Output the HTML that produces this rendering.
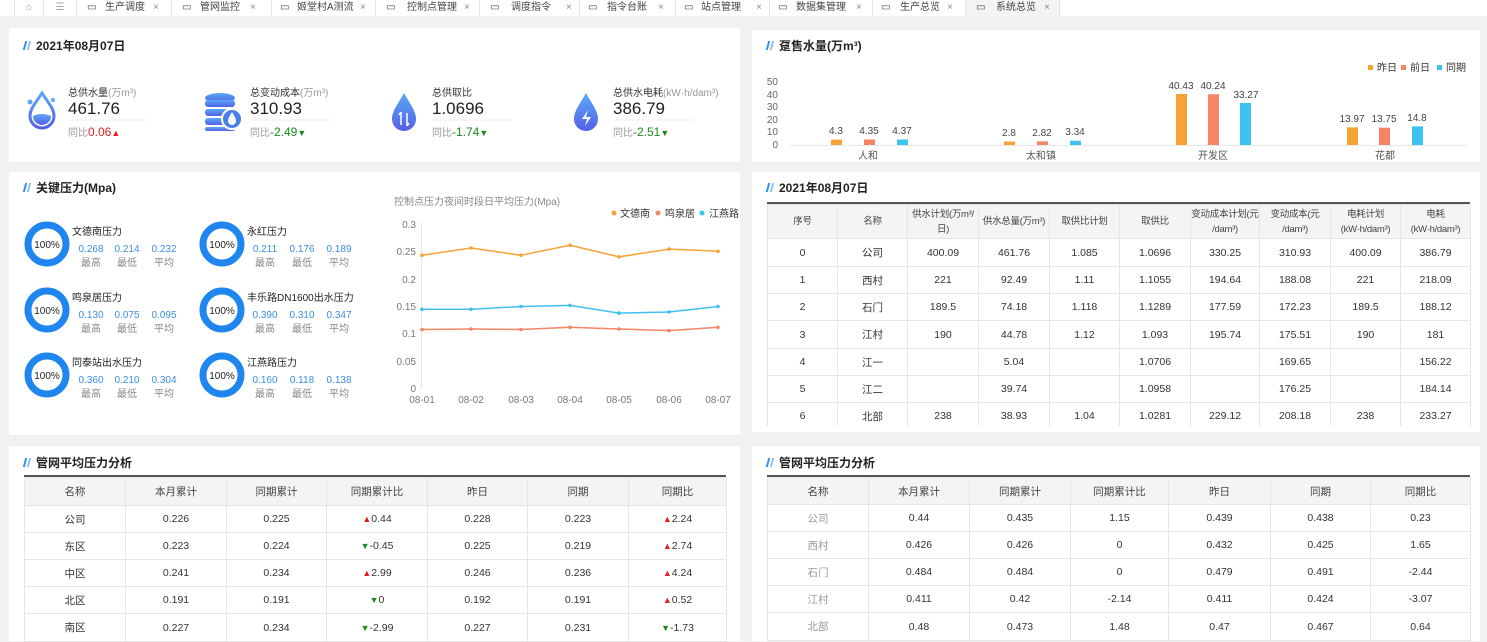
<!DOCTYPE html>
<html><head><meta charset="utf-8">
<style>
*{margin:0;padding:0;box-sizing:border-box}
body{width:1487px;height:641px;overflow:hidden;background:#f0f1f3;font-family:"Liberation Sans","Noto Sans CJK SC",sans-serif;color:#333;position:relative}
.a{position:absolute;white-space:nowrap}
.panel{position:absolute;background:#fff}
.title{position:absolute;font-size:12px;font-weight:bold;color:#222}
.title i{display:inline-block;width:6px;height:9px;margin-right:6px;border-left:2px solid #3a8ee6;border-right:2px solid #8cc4f5;transform:skewX(-15deg)}
table{position:absolute;border-collapse:collapse;table-layout:fixed;font-size:10.5px;color:#333}
td,th{border:1px solid #e6e6e6;text-align:center;font-weight:normal;overflow:hidden;white-space:nowrap}
th{background:#f4f4f4;color:#444}
.td th{font-size:9.5px;letter-spacing:-0.3px;line-height:15px}
.tab{position:absolute;top:0;height:17px;font-size:10px;color:#444;line-height:16px;border-right:1px solid #e5e5e5}
.up{color:#e02020;font-size:9px}.dn{color:#1a8a1a;font-size:9px}
</style></head><body>
<div class="a" style="left:0;top:0;width:1487px;height:17px;background:#fff;border-bottom:1px solid #eee"></div>
<div class="tab" style="left:14px;width:30px;text-align:center;color:#999;border-left:1px solid #e5e5e5">⌂</div>
<div class="tab" style="left:44px;width:33px;text-align:center;color:#aaa">☰</div>
<div class="tab" style="left:77px;width:95px"><span style="position:absolute;left:10px">▭</span><span style="position:absolute;left:28px">生产调度</span><span style="position:absolute;left:76px;color:#888">×</span></div>
<div class="tab" style="left:172px;width:100px"><span style="position:absolute;left:10px">▭</span><span style="position:absolute;left:28px">管网监控</span><span style="position:absolute;left:78px;color:#888">×</span></div>
<div class="tab" style="left:272px;width:104px"><span style="position:absolute;left:8px">▭</span><span style="position:absolute;left:25px">姬堂村A测流</span><span style="position:absolute;left:88px;color:#888">×</span></div>
<div class="tab" style="left:376px;width:104px"><span style="position:absolute;left:10px">▭</span><span style="position:absolute;left:31px">控制点管理</span><span style="position:absolute;left:88px;color:#888">×</span></div>
<div class="tab" style="left:480px;width:100px"><span style="position:absolute;left:10px">▭</span><span style="position:absolute;left:31px">调度指令</span><span style="position:absolute;left:86px;color:#888">×</span></div>
<div class="tab" style="left:580px;width:96px"><span style="position:absolute;left:8px">▭</span><span style="position:absolute;left:27px">指令台账</span><span style="position:absolute;left:78px;color:#888">×</span></div>
<div class="tab" style="left:676px;width:94px"><span style="position:absolute;left:8px">▭</span><span style="position:absolute;left:25px">站点管理</span><span style="position:absolute;left:80px;color:#888">×</span></div>
<div class="tab" style="left:770px;width:103px"><span style="position:absolute;left:8px">▭</span><span style="position:absolute;left:26px">数据集管理</span><span style="position:absolute;left:86px;color:#888">×</span></div>
<div class="tab" style="left:873px;width:93px"><span style="position:absolute;left:8px">▭</span><span style="position:absolute;left:27px">生产总览</span><span style="position:absolute;left:74px;color:#888">×</span></div>
<div class="tab" style="left:966px;width:94px;background:#f4f4f4"><span style="position:absolute;left:10px">▭</span><span style="position:absolute;left:30px">系统总览</span><span style="position:absolute;left:78px;color:#888">×</span></div>

<div class="panel" style="left:9px;top:28px;width:731px;height:134px"></div>
<div class="panel" style="left:752px;top:30px;width:728px;height:132px"></div>
<div class="panel" style="left:9px;top:172px;width:731px;height:263px"></div>
<div class="panel" style="left:752px;top:172px;width:728px;height:260px"></div>
<div class="panel" style="left:9px;top:446px;width:731px;height:195px"></div>
<div class="panel" style="left:752px;top:446px;width:728px;height:195px"></div>

<div class="title" style="left:24px;top:37px"><i></i>2021年08月07日</div>
<div class="title" style="left:767px;top:37px"><i></i>趸售水量(万m³)</div>
<div class="title" style="left:24px;top:179px"><i></i>关键压力(Mpa)</div>
<div class="title" style="left:767px;top:179px"><i></i>2021年08月07日</div>
<div class="title" style="left:24px;top:454px"><i></i>管网平均压力分析</div>
<div class="title" style="left:767px;top:454px"><i></i>管网平均压力分析</div>

<div class="a" style="left:68px;top:84px;font-size:10px;color:#333">总供水量<span style="color:#999">(万m³)</span></div>
<div class="a" style="left:68px;top:99px;font-size:17px;color:#222">461.76</div>
<div class="a" style="left:68px;top:124px;font-size:10px;color:#999">同比<span style="color:#e02020;font-size:12px">0.06</span><span class="up">▲</span></div>
<div class="a" style="left:250px;top:84px;font-size:10px;color:#333">总变动成本<span style="color:#999">(万m³)</span></div>
<div class="a" style="left:250px;top:99px;font-size:17px;color:#222">310.93</div>
<div class="a" style="left:250px;top:124px;font-size:10px;color:#999">同比<span style="color:#1a8a1a;font-size:12px">-2.49</span><span class="dn">▼</span></div>
<div class="a" style="left:432px;top:84px;font-size:10px;color:#333">总供取比</div>
<div class="a" style="left:432px;top:99px;font-size:17px;color:#222">1.0696</div>
<div class="a" style="left:432px;top:124px;font-size:10px;color:#999">同比<span style="color:#1a8a1a;font-size:12px">-1.74</span><span class="dn">▼</span></div>
<div class="a" style="left:613px;top:84px;font-size:10px;color:#333">总供水电耗<span style="color:#999">(kW·h/dam³)</span></div>
<div class="a" style="left:613px;top:99px;font-size:17px;color:#222">386.79</div>
<div class="a" style="left:613px;top:124px;font-size:10px;color:#999">同比<span style="color:#1a8a1a;font-size:12px">-2.51</span><span class="dn">▼</span></div>

<svg class="a" style="left:0;top:0" width="1487" height="641" font-family="Liberation Sans, Noto Sans CJK SC, sans-serif">
<defs><linearGradient id="g" x1="0" y1="0" x2="0" y2="1"><stop offset="0" stop-color="#5aa9f5"/><stop offset="1" stop-color="#5560e8"/></linearGradient></defs>
<g stroke="#eee" stroke-width="1"><line x1="68" y1="120" x2="148" y2="120"/><line x1="250" y1="120" x2="330" y2="120"/><line x1="432" y1="120" x2="512" y2="120"/><line x1="613" y1="120" x2="693" y2="120"/></g>
<path d="M42 93 C36 103 30 108 30 116 A12 12 0 0 0 54 116 C54 108 48 103 42 93Z" fill="none" stroke="url(#g)" stroke-width="3"/>
<path d="M33 116 Q42 112 51 116 A9 9 0 0 1 33 116Z" fill="url(#g)"/>
<circle cx="30" cy="102" r="2.5" fill="#5aa9f5"/><circle cx="53" cy="100" r="2" fill="#5aa9f5"/>
<g fill="url(#g)"><ellipse cx="220" cy="98" rx="15" ry="5"/><rect x="205" y="100" width="30" height="7" rx="3"/><rect x="205" y="109" width="30" height="7" rx="3"/><rect x="205" y="118" width="30" height="7" rx="3"/><rect x="205" y="127" width="30" height="4" rx="2"/></g>
<circle cx="232" cy="119" r="10" fill="#4b7ee8" stroke="#fff" stroke-width="2"/><path d="M232 112 C229 117 228 119 228 121 A4 4 0 0 0 236 121 C236 119 235 117 232 112Z" fill="#fff"/>
<path d="M404 93 C398 104 392 111 392 119 A12 12 0 0 0 416 119 C416 111 410 104 404 93Z" fill="url(#g)"/>
<path d="M401 112 v13 M401 112 l-2 3 M407 126 v-13 M407 126 l2 -3" stroke="#fff" stroke-width="1.5" fill="none"/>
<path d="M586 93 C580 104 574 111 574 119 A12 12 0 0 0 598 119 C598 111 592 104 586 93Z" fill="url(#g)"/>
<path d="M588 110 l-6 9 h5 l-2 7 l6 -9 h-5z" fill="#fff"/>

<g font-size="10" fill="#666" text-anchor="end"><text x="778" y="85">50</text><text x="778" y="98">40</text><text x="778" y="110">30</text><text x="778" y="123">20</text><text x="778" y="135">10</text><text x="778" y="148">0</text></g>
<line x1="790" y1="145.5" x2="1467" y2="145.5" stroke="#e8e8e8"/>
<g font-size="10" fill="#555" text-anchor="middle"><text x="868" y="159">人和</text><text x="1041" y="159">太和镇</text><text x="1213" y="159">开发区</text><text x="1385" y="159">花都</text></g>
<g font-size="10" fill="#444" text-anchor="middle">
<rect x="831" y="139.6" width="11" height="5.4" fill="#f7a234"/><text x="836" y="134">4.3</text>
<rect x="864" y="139.5" width="11" height="5.5" fill="#f78466"/><text x="869" y="134">4.35</text>
<rect x="897" y="139.5" width="11" height="5.5" fill="#3dc2f0"/><text x="902" y="134">4.37</text>
<rect x="1004" y="141.5" width="11" height="3.5" fill="#f7a234"/><text x="1009" y="136">2.8</text>
<rect x="1037" y="141.4" width="11" height="3.6" fill="#f78466"/><text x="1042" y="136">2.82</text>
<rect x="1070" y="140.8" width="11" height="4.2" fill="#3dc2f0"/><text x="1075" y="135">3.34</text>
<rect x="1176" y="94" width="11" height="51" fill="#f7a234"/><text x="1181" y="89">40.43</text>
<rect x="1208" y="94.3" width="11" height="50.7" fill="#f78466"/><text x="1213" y="89">40.24</text>
<rect x="1240" y="103" width="11" height="42" fill="#3dc2f0"/><text x="1246" y="98">33.27</text>
<rect x="1347" y="127.4" width="11" height="17.6" fill="#f7a234"/><text x="1352" y="122">13.97</text>
<rect x="1379" y="127.7" width="11" height="17.3" fill="#f78466"/><text x="1384" y="122">13.75</text>
<rect x="1412" y="126.4" width="11" height="18.6" fill="#3dc2f0"/><text x="1417" y="121">14.8</text>
</g>
<g font-size="10" fill="#333"><rect x="1368" y="65" width="5" height="5" fill="#f7a234"/><text x="1377" y="71">昨日</text><rect x="1401" y="65" width="5" height="5" fill="#f78466"/><text x="1410" y="71">前日</text><rect x="1437" y="65" width="5" height="5" fill="#3dc2f0"/><text x="1446" y="71">同期</text></g>

<g fill="none" stroke="#1f86ef" stroke-width="7">
<circle cx="47" cy="244" r="19"/><circle cx="222" cy="244" r="19"/><circle cx="47" cy="310" r="19"/><circle cx="222" cy="310" r="19"/><circle cx="47" cy="375" r="19"/><circle cx="222" cy="375" r="19"/></g>
<g font-size="10" fill="#222" text-anchor="middle"><text x="47" y="248">100%</text><text x="222" y="248">100%</text><text x="47" y="314">100%</text><text x="222" y="314">100%</text><text x="47" y="379">100%</text><text x="222" y="379">100%</text></g>
<g font-size="10" fill="#222"><text x="72" y="235">文德南压力</text><text x="247" y="235">永红压力</text><text x="72" y="301">鸣泉居压力</text><text x="247" y="301">丰乐路DN1600出水压力</text><text x="72" y="366">同泰站出水压力</text><text x="247" y="366">江燕路压力</text></g>
<g font-size="10" fill="#3a8ee6" text-anchor="middle">
<text x="91" y="252">0.268</text><text x="127" y="252">0.214</text><text x="164" y="252">0.232</text>
<text x="265" y="252">0.211</text><text x="302" y="252">0.176</text><text x="339" y="252">0.189</text>
<text x="91" y="318">0.130</text><text x="127" y="318">0.075</text><text x="164" y="318">0.095</text>
<text x="265" y="318">0.390</text><text x="302" y="318">0.310</text><text x="339" y="318">0.347</text>
<text x="91" y="383">0.360</text><text x="127" y="383">0.210</text><text x="164" y="383">0.304</text>
<text x="265" y="383">0.160</text><text x="302" y="383">0.118</text><text x="339" y="383">0.138</text></g>
<g font-size="10" fill="#888" text-anchor="middle">
<text x="91" y="266">最高</text><text x="127" y="266">最低</text><text x="164" y="266">平均</text><text x="265" y="266">最高</text><text x="302" y="266">最低</text><text x="339" y="266">平均</text>
<text x="91" y="332">最高</text><text x="127" y="332">最低</text><text x="164" y="332">平均</text><text x="265" y="332">最高</text><text x="302" y="332">最低</text><text x="339" y="332">平均</text>
<text x="91" y="397">最高</text><text x="127" y="397">最低</text><text x="164" y="397">平均</text><text x="265" y="397">最高</text><text x="302" y="397">最低</text><text x="339" y="397">平均</text></g>

<text x="394" y="205" font-size="10" fill="#888">控制点压力夜间时段日平均压力(Mpa)</text>
<g font-size="10" fill="#333"><circle cx="614" cy="213" r="2.5" fill="#f7a234"/><text x="620" y="217">文德南</text><circle cx="658" cy="213" r="2.5" fill="#f78466"/><text x="665" y="217">鸣泉居</text><circle cx="702" cy="213" r="2.5" fill="#3dc2f0"/><text x="709" y="217">江燕路</text></g>
<g font-size="10" fill="#777" text-anchor="end"><text x="416" y="228">0.3</text><text x="416" y="255">0.25</text><text x="416" y="283">0.2</text><text x="416" y="310">0.15</text><text x="416" y="337">0.1</text><text x="416" y="365">0.05</text><text x="416" y="392">0</text></g>
<line x1="421.5" y1="222" x2="421.5" y2="388" stroke="#e5e5e5"/>
<g font-size="10" fill="#777" text-anchor="middle"><text x="422" y="403">08-01</text><text x="471" y="403">08-02</text><text x="521" y="403">08-03</text><text x="570" y="403">08-04</text><text x="619" y="403">08-05</text><text x="669" y="403">08-06</text><text x="718" y="403">08-07</text></g>
<polyline fill="none" stroke="#f7a234" stroke-width="1.5" points="422,255.2 471,248 521,255.2 570,245.3 619,256.8 669,249.1 718,251.3"/>
<polyline fill="none" stroke="#3dc2f0" stroke-width="1.5" points="422,309.3 471,309.3 521,306.5 570,305.4 619,313.1 669,312 718,306.5"/>
<polyline fill="none" stroke="#f78466" stroke-width="1.5" points="422,329.5 471,329 521,329.5 570,327.3 619,329 669,330.6 718,327.3"/>
<g fill="#f7a234"><circle cx="422" cy="255.2" r="1.8"/><circle cx="471" cy="248" r="1.8"/><circle cx="521" cy="255.2" r="1.8"/><circle cx="570" cy="245.3" r="1.8"/><circle cx="619" cy="256.8" r="1.8"/><circle cx="669" cy="249.1" r="1.8"/><circle cx="718" cy="251.3" r="1.8"/></g>
<g fill="#3dc2f0"><circle cx="422" cy="309.3" r="1.8"/><circle cx="471" cy="309.3" r="1.8"/><circle cx="521" cy="306.5" r="1.8"/><circle cx="570" cy="305.4" r="1.8"/><circle cx="619" cy="313.1" r="1.8"/><circle cx="669" cy="312" r="1.8"/><circle cx="718" cy="306.5" r="1.8"/></g>
<g fill="#f78466"><circle cx="422" cy="329.5" r="1.8"/><circle cx="471" cy="329" r="1.8"/><circle cx="521" cy="329.5" r="1.8"/><circle cx="570" cy="327.3" r="1.8"/><circle cx="619" cy="329" r="1.8"/><circle cx="669" cy="330.6" r="1.8"/><circle cx="718" cy="327.3" r="1.8"/></g>
</svg>

<div class="a" style="left:767px;top:202px;width:703px;height:2px;background:#555"></div>
<table class="td" style="left:767px;top:204px;width:703px">
<colgroup><col style="width:70px"><col style="width:70px"><col style="width:71px"><col style="width:71px"><col style="width:70px"><col style="width:71px"><col style="width:69px"><col style="width:71px"><col style="width:70px"><col style="width:70px"></colgroup>
<tr style="height:34px"><th>序号</th><th>名称</th><th>供水计划(万m³/<br>日)</th><th>供水总量(万m³)</th><th>取供比计划</th><th>取供比</th><th>变动成本计划(元<br>/dam³)</th><th>变动成本(元<br>/dam³)</th><th>电耗计划<br>(kW·h/dam³)</th><th>电耗<br>(kW·h/dam³)</th></tr>
<tr style="height:28px"><td>0</td><td>公司</td><td>400.09</td><td>461.76</td><td>1.085</td><td>1.0696</td><td>330.25</td><td>310.93</td><td>400.09</td><td>386.79</td></tr>
<tr style="height:27px"><td>1</td><td>西村</td><td>221</td><td>92.49</td><td>1.11</td><td>1.1055</td><td>194.64</td><td>188.08</td><td>221</td><td>218.09</td></tr>
<tr style="height:27px"><td>2</td><td>石门</td><td>189.5</td><td>74.18</td><td>1.118</td><td>1.1289</td><td>177.59</td><td>172.23</td><td>189.5</td><td>188.12</td></tr>
<tr style="height:28px"><td>3</td><td>江村</td><td>190</td><td>44.78</td><td>1.12</td><td>1.093</td><td>195.74</td><td>175.51</td><td>190</td><td>181</td></tr>
<tr style="height:27px"><td>4</td><td>江一</td><td></td><td>5.04</td><td></td><td>1.0706</td><td></td><td>169.65</td><td></td><td>156.22</td></tr>
<tr style="height:27px"><td>5</td><td>江二</td><td></td><td>39.74</td><td></td><td>1.0958</td><td></td><td>176.25</td><td></td><td>184.14</td></tr>
<tr style="height:27px"><td>6</td><td>北部</td><td>238</td><td>38.93</td><td>1.04</td><td>1.0281</td><td>229.12</td><td>208.18</td><td>238</td><td>233.27</td></tr>
</table>
<div class="a" style="left:752px;top:426px;width:728px;height:6px;background:#fff"></div>

<div class="a" style="left:24px;top:475px;width:702px;height:2px;background:#555"></div>
<table style="left:24px;top:477px;width:702px">
<colgroup><col style="width:101px"><col style="width:101px"><col style="width:100px"><col style="width:101px"><col style="width:100px"><col style="width:101px"><col style="width:98px"></colgroup>
<tr style="height:28px"><th>名称</th><th>本月累计</th><th>同期累计</th><th>同期累计比</th><th>昨日</th><th>同期</th><th>同期比</th></tr>
<tr style="height:27px"><td>公司</td><td>0.226</td><td>0.225</td><td><span class="up">▲</span>0.44</td><td>0.228</td><td>0.223</td><td><span class="up">▲</span>2.24</td></tr>
<tr style="height:27px"><td>东区</td><td>0.223</td><td>0.224</td><td><span class="dn">▼</span>-0.45</td><td>0.225</td><td>0.219</td><td><span class="up">▲</span>2.74</td></tr>
<tr style="height:27px"><td>中区</td><td>0.241</td><td>0.234</td><td><span class="up">▲</span>2.99</td><td>0.246</td><td>0.236</td><td><span class="up">▲</span>4.24</td></tr>
<tr style="height:27px"><td>北区</td><td>0.191</td><td>0.191</td><td><span class="dn">▼</span>0</td><td>0.192</td><td>0.191</td><td><span class="up">▲</span>0.52</td></tr>
<tr style="height:28px"><td>南区</td><td>0.227</td><td>0.234</td><td><span class="dn">▼</span>-2.99</td><td>0.227</td><td>0.231</td><td><span class="dn">▼</span>-1.73</td></tr>
</table>

<div class="a" style="left:767px;top:475px;width:703px;height:2px;background:#555"></div>
<table style="left:767px;top:477px;width:703px">
<colgroup><col style="width:101px"><col style="width:101px"><col style="width:101px"><col style="width:98px"><col style="width:102px"><col style="width:100px"><col style="width:100px"></colgroup>
<tr style="height:27px"><th>名称</th><th>本月累计</th><th>同期累计</th><th>同期累计比</th><th>昨日</th><th>同期</th><th>同期比</th></tr>
<tr style="height:27px"><td style="color:#999">公司</td><td>0.44</td><td>0.435</td><td>1.15</td><td>0.439</td><td>0.438</td><td>0.23</td></tr>
<tr style="height:27px"><td style="color:#999">西村</td><td>0.426</td><td>0.426</td><td>0</td><td>0.432</td><td>0.425</td><td>1.65</td></tr>
<tr style="height:27px"><td style="color:#999">石门</td><td>0.484</td><td>0.484</td><td>0</td><td>0.479</td><td>0.491</td><td>-2.44</td></tr>
<tr style="height:27px"><td style="color:#999">江村</td><td>0.411</td><td>0.42</td><td>-2.14</td><td>0.411</td><td>0.424</td><td>-3.07</td></tr>
<tr style="height:28px"><td style="color:#999">北部</td><td>0.48</td><td>0.473</td><td>1.48</td><td>0.47</td><td>0.467</td><td>0.64</td></tr>
</table>
</body></html>
